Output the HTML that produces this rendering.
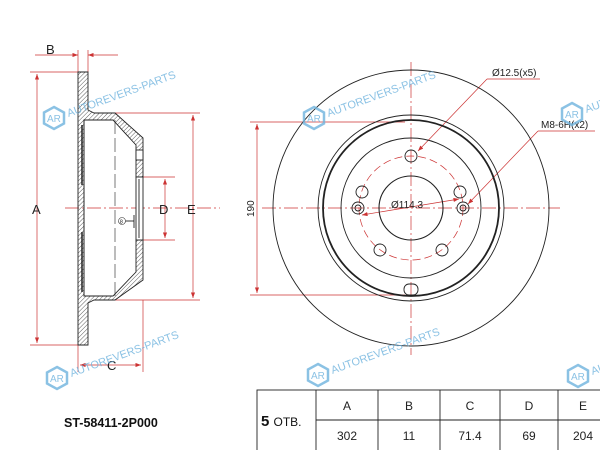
<!DOCTYPE html>
<html><head><style>
html,body{margin:0;padding:0;background:#fff;width:600px;height:450px;overflow:hidden}
svg{display:block}
text{font-family:"Liberation Sans",sans-serif}
</style></head><body>
<svg width="600" height="450" viewBox="0 0 600 450" xmlns="http://www.w3.org/2000/svg">
<defs>
<pattern id="h" width="3" height="3" patternUnits="userSpaceOnUse" patternTransform="rotate(45)">
<line x1="0" y1="0" x2="0" y2="3" stroke="#333" stroke-width="0.8"/></pattern>
<marker id="a" viewBox="0 0 8 6" refX="8" refY="3" markerWidth="8" markerHeight="6" orient="auto-start-reverse"><path d="M0,0L8,3L0,6z" fill="#c33"/></marker>
<g id="wm">
<polygon points="0,-11 10,-5.5 10,5.5 0,11 -10,5.5 -10,-5.5" fill="none" stroke="#6fb3de" stroke-width="2.5"/>
<text x="-7" y="4" font-size="10" fill="#6fb3de">AR</text>
<text x="14" y="4" font-size="11" fill="#6fb3de" transform="rotate(-20)">AUTOREVERS-PARTS</text>
</g>
</defs>

<!-- LEFT SECTION VIEW -->
<g stroke="#c33" stroke-width="0.7" fill="none">
<line x1="30" y1="72" x2="78" y2="72"/><line x1="30" y1="345" x2="78" y2="345"/>
<line x1="37" y1="74" x2="37" y2="343" marker-start="url(#a)" marker-end="url(#a)"/>
<line x1="78" y1="50" x2="78" y2="72"/><line x1="88" y1="50" x2="88" y2="72"/>
<line x1="35" y1="55" x2="78" y2="55" marker-end="url(#a)"/><line x1="118" y1="55" x2="88" y2="55" marker-end="url(#a)"/>
<line x1="78" y1="345" x2="78" y2="372"/><line x1="143" y1="300" x2="143" y2="372"/>
<line x1="80" y1="365" x2="141" y2="365" marker-start="url(#a)" marker-end="url(#a)"/>
<line x1="143" y1="177" x2="175" y2="177"/><line x1="143" y1="240" x2="175" y2="240"/>
<line x1="165" y1="179" x2="165" y2="238" marker-start="url(#a)" marker-end="url(#a)"/>
<line x1="115" y1="113" x2="200" y2="113"/><line x1="115" y1="300" x2="200" y2="300"/>
<line x1="193" y1="115" x2="193" y2="298" marker-start="url(#a)" marker-end="url(#a)"/>
<line x1="65" y1="208" x2="220" y2="208" stroke-dasharray="14,3,2,3"/>
</g>
<g stroke="#222" stroke-width="0.9">
<path d="M78,72H88V110L94,113H115L143,138V177H136V145L113,120H84V296H113L136,272V240H143V280L115,300H94L88,303V345H78Z" fill="url(#h)"/>
<line x1="84" y1="120" x2="84" y2="296"/>
<line x1="82" y1="125" x2="82" y2="185" stroke-width="1.5"/><line x1="82" y1="232" x2="82" y2="292" stroke-width="1.5"/>
<line x1="115" y1="120" x2="115" y2="296" stroke-dasharray="14,4" stroke-width="0.6"/>
<rect x="136" y="150" width="7" height="10" fill="#fff"/>
<rect x="136" y="177" width="7" height="63" fill="#fff"/>
<line x1="139" y1="179" x2="139" y2="238"/>
<line x1="134" y1="215" x2="134" y2="228"/><line x1="125" y1="221" x2="134" y2="221"/>
</g>
<circle cx="122" cy="221" r="3.5" fill="#fff" stroke="#333" stroke-width="0.6"/>
<text x="120" y="223.5" font-size="5">8</text>
<g font-size="13" fill="#222">
<text x="46" y="54">B</text><text x="32" y="214">A</text><text x="159" y="214">D</text>
<text x="187" y="214">E</text><text x="107" y="370">C</text>
</g>

<!-- RIGHT FRONT VIEW -->
<g stroke="#c33" stroke-width="0.7" fill="none">
<line x1="411" y1="62" x2="411" y2="355" stroke-dasharray="14,3,2,3"/>
<line x1="262" y1="208" x2="560" y2="208" stroke-dasharray="14,3,2,3"/>
<line x1="250" y1="122" x2="405" y2="122"/><line x1="250" y1="295" x2="405" y2="295"/>
<line x1="257" y1="124" x2="257" y2="293" marker-start="url(#a)" marker-end="url(#a)"/>
<circle cx="411" cy="208" r="52" stroke-dasharray="8,4"/>
<line x1="487" y1="79" x2="418" y2="151" marker-end="url(#a)"/><line x1="487" y1="79" x2="540" y2="79"/>
<line x1="538" y1="131" x2="468" y2="204" marker-end="url(#a)"/><line x1="538" y1="131" x2="595" y2="131"/>
<line x1="362" y1="215" x2="459" y2="199" marker-start="url(#a)" marker-end="url(#a)"/>
</g>
<g stroke="#222" fill="none">
<circle cx="411" cy="208" r="138" stroke-width="0.9"/>
<circle cx="411" cy="208" r="93" stroke-width="0.9"/>
<circle cx="411" cy="208" r="88" stroke-width="1.8"/>
<circle cx="411" cy="208" r="70" stroke-width="0.9"/>
<circle cx="411" cy="208" r="32" stroke-width="1.1"/>
<g stroke-width="0.9">
<circle cx="411" cy="156" r="6"/><circle cx="362" cy="192" r="6"/><circle cx="460" cy="192" r="6"/>
<circle cx="380" cy="250" r="6"/><circle cx="442" cy="250" r="6"/>
<circle cx="358" cy="208" r="6"/><circle cx="358" cy="208" r="3"/>
<circle cx="463" cy="208" r="6"/><circle cx="463" cy="208" r="3"/>
<rect x="404" y="284" width="14" height="11" rx="5"/>
</g>
</g>
<g font-size="10" fill="#222">
<text x="492" y="76">Ø12.5(x5)</text>
<text x="541" y="128">M8-6H(x2)</text>
<text x="391" y="208">Ø114.3</text>
<text x="0" y="0" transform="translate(254,217) rotate(-90)">190</text>
</g>

<!-- watermarks -->
<g opacity="0.8">
<use href="#wm" x="54" y="118"/><use href="#wm" x="314" y="118"/><use href="#wm" x="572" y="114"/>
<use href="#wm" x="57" y="378"/><use href="#wm" x="318" y="375"/><use href="#wm" x="578" y="376"/>
</g>

<!-- TABLE -->
<text x="64" y="427" font-size="12.5" font-weight="bold" fill="#111">ST-58411-2P000</text>
<g stroke="#222" stroke-width="0.9" fill="none">
<rect x="257" y="390" width="345" height="62"/>
<line x1="316" y1="420" x2="602" y2="420"/>
<line x1="316" y1="390" x2="316" y2="452"/><line x1="378" y1="390" x2="378" y2="452"/>
<line x1="440" y1="390" x2="440" y2="452"/><line x1="500" y1="390" x2="500" y2="452"/>
<line x1="558" y1="390" x2="558" y2="452"/>
</g>
<g font-size="12" fill="#222" text-anchor="middle">
<text x="347" y="410">A</text><text x="409" y="410">B</text><text x="470" y="410">C</text>
<text x="529" y="410">D</text><text x="583" y="410">E</text>
<text x="347" y="440">302</text><text x="409" y="440">11</text><text x="470" y="440">71.4</text>
<text x="529" y="440">69</text><text x="583" y="440">204</text>
</g>
<text x="261" y="426" font-size="15" font-weight="bold" fill="#111">5 <tspan font-size="12" font-weight="normal">ОТВ.</tspan></text>
</svg>
</body></html>
